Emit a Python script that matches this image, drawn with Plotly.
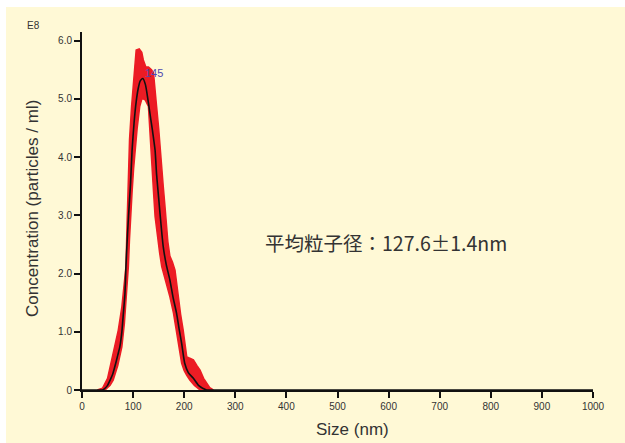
import plotly.graph_objects as go

# ---- data (size in nm, concentration in E8 particles/ml) ----
size_nm = [0, 30, 40, 45, 50, 55, 60, 66, 70, 74, 78, 81, 84, 86, 88, 91, 95, 98, 102, 106,
           110, 114, 119, 124, 128, 133, 138, 143, 146, 150, 153, 159, 165, 172, 178, 185,
           190, 195, 201, 208, 218, 228, 236, 244, 260, 1000]
conc_mean = [0, 0, 0, 0.03, 0.08, 0.17, 0.27, 0.46, 0.6, 0.74, 1.0, 1.32, 1.65, 2.12, 2.5,
             2.98, 3.55, 4.12, 4.6, 4.95, 5.18, 5.31, 5.35, 5.25, 5.05, 4.75, 4.45, 4.12, 3.7,
             3.3, 3.0, 2.46, 2.15, 1.89, 1.6, 1.32, 1.05, 0.8, 0.46, 0.3, 0.2, 0.08, 0.03, 0, 0, 0]

band_upper_x = [30, 40, 50, 55, 63, 71, 78, 83, 86, 88.6, 90.7, 93, 97, 102, 106, 112, 117,
                120, 125, 130, 136, 140, 143, 146, 150, 153, 156, 159, 162, 165, 168, 172,
                177, 182, 185, 188, 193, 198, 202, 205, 210, 218, 225, 231, 238, 244, 250, 257]
band_upper_y = [0, 0.03, 0.2, 0.4, 0.7, 1.03, 1.43, 1.8, 2.12, 2.98, 3.9, 4.3, 4.87, 5.44,
                5.84, 5.86, 5.8, 5.67, 5.55, 5.55, 5.5, 5.44, 5.2, 4.87, 4.5, 4.12, 3.8, 3.5,
                3.2, 2.9, 2.55, 2.3, 2.2, 2.06, 1.85, 1.6, 1.3, 1.03, 0.75, 0.57, 0.55, 0.52,
                0.42, 0.34, 0.2, 0.11, 0.04, 0]

band_lower_x = [45, 55, 61, 70, 78, 83, 87, 90.7, 93, 95, 98, 101, 104, 108, 113, 117, 120,
                124, 130, 133, 136, 140, 143, 147, 152, 156, 161, 166, 172, 179, 185, 190,
                195, 200, 205, 211, 220, 231]
band_lower_y = [0, 0.08, 0.17, 0.42, 0.74, 1.15, 1.6, 2.12, 2.6, 2.98, 3.4, 3.8, 4.12, 4.5,
                4.87, 5.0, 5.0, 4.98, 4.87, 4.4, 4.0, 3.4, 2.98, 2.65, 2.35, 2.12, 2.0, 1.8,
                1.6, 1.32, 1.0, 0.75, 0.46, 0.33, 0.25, 0.17, 0.08, 0]

peak_label_x = 119
peak_label_y = 5.45
peak_label = "145"

x_ticks = [0, 100, 200, 300, 400, 500, 600, 700, 800, 900, 1000]
y_ticks = [0, 1, 2, 3, 4, 5, 6]
y_ticktext = ["0", "1.0", "2.0", "3.0", "4.0", "5.0", "6.0"]

annotation_text = "平均粒子径：127.6±1.4nm"

cream = "#FFF9D6"
red = "rgb(236,28,36)"

fig = go.Figure()

fig.add_trace(go.Scatter(
    x=band_upper_x + band_lower_x[::-1],
    y=band_upper_y + band_lower_y[::-1],
    fill="toself", fillcolor=red, mode="lines",
    line=dict(color=red, width=1.5),
    hoverinfo="skip", showlegend=False,
))

fig.add_trace(go.Scatter(
    x=size_nm, y=conc_mean, mode="lines",
    line=dict(color="#111111", width=1.6, shape="spline", smoothing=0.6),
    showlegend=False,
))

tick_font = dict(family="Liberation Sans, Arial, sans-serif", size=10, color="#333333")

fig.update_xaxes(
    range=[0, 1000], tickvals=x_ticks, ticktext=[str(v) for v in x_ticks],
    showline=True, linecolor="#111111", linewidth=2,
    ticks="outside", ticklen=6, tickwidth=1.5, tickcolor="#111111",
    showgrid=False, zeroline=False, tickfont=tick_font,
)
fig.update_yaxes(
    range=[0, 6.15], tickvals=y_ticks, ticktext=y_ticktext,
    showline=True, linecolor="#111111", linewidth=2,
    ticks="outside", ticklen=6, tickwidth=1.5, tickcolor="#111111",
    showgrid=False, zeroline=False, tickfont=tick_font,
)

title_font = dict(family="Liberation Sans, Arial, sans-serif", size=17, color="#333333")

fig.update_layout(
    width=625, height=443,
    margin=dict(l=82, r=32, t=32, b=53),
    paper_bgcolor=cream, plot_bgcolor=cream,
    shapes=[
        dict(type="rect", xref="paper", yref="paper", x0=-82/511, x1=543/511,
             y0=(390-7)/358, y1=390/358, fillcolor="white", line=dict(width=0), layer="below"),
        dict(type="rect", xref="paper", yref="paper", x0=-82/511, x1=-76/511,
             y0=-53/358, y1=390/358, fillcolor="white", line=dict(width=0), layer="below"),
    ],
    annotations=[
        dict(x=peak_label_x, y=peak_label_y, xref="x", yref="y", text=peak_label,
             showarrow=False, xanchor="left", yanchor="middle",
             font=dict(family="Liberation Sans, Arial, sans-serif", size=11, color="#5048b0")),
        dict(x=(386-82)/0.511, y=(390-243)/58.2, xref="x", yref="y", text=annotation_text,
             showarrow=False,
             font=dict(family="Noto Sans CJK JP", size=19.5, color="#333333")),
        dict(x=(352-82)/511, y=(390-429)/358, xref="paper", yref="paper", text="Size (nm)",
             showarrow=False, font=title_font, xanchor="center", yanchor="middle"),
        dict(x=(33-82)/511, y=(390-209)/358, xref="paper", yref="paper",
             text="Concentration (particles / ml)", textangle=-90,
             showarrow=False, font=title_font, xanchor="center", yanchor="middle"),
        dict(x=(33-82)/511, y=(390-25)/358, xref="paper", yref="paper", text="E8",
             showarrow=False, xanchor="center", yanchor="middle",
             font=dict(family="Liberation Sans, Arial, sans-serif", size=10, color="#333333")),
    ],
)

fig.write_html("out.html")
